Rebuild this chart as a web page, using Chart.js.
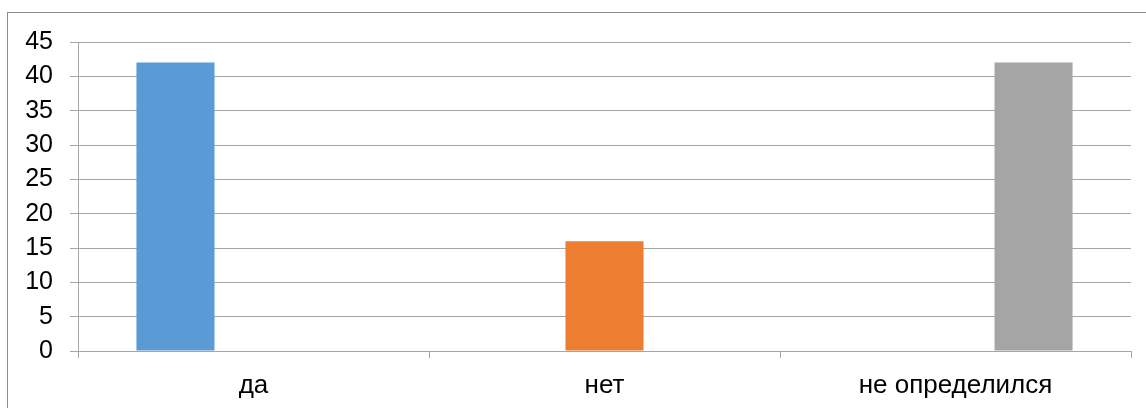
<!DOCTYPE html>
<html>
<head>
<meta charset="utf-8">
<script src="https://cdn.jsdelivr.net/npm/chart.js@4/dist/chart.umd.min.js"></script>
<style>
    html, body { margin: 0; padding: 0; background: #fff; }
    #wrap { position: relative; width: 1146px; height: 408px; }
</style>
</head>
<body>
<div id="wrap"><canvas id="answersChart" width="1146" height="408"></canvas></div>
<script>
    const categories = ['да', 'нет', 'не определился'];
    const seriesNames = ['да', 'нет', 'не определился'];
    const daValues = [42, null, null];
    const netValues = [null, 16, null];
    const undecidedValues = [null, null, 42];
    const colors = ['#5b9bd5', '#ed7d31', '#a5a5a5'];

    const gridColor = '#a6a6a6';
    const family = '"Liberation Sans", Arial, sans-serif';

    // рамка вокруг всей диаграммы, как в Excel
    const frame = {
        id: 'frame',
        beforeDraw(chart) {
            const c = chart.ctx;
            c.save();
            c.strokeStyle = '#8c8c8c';
            c.lineWidth = 1;
            c.strokeRect(7.5, 12.5, 1150, 400);
            c.restore();
        }
    };

    new Chart(document.getElementById('answersChart').getContext('2d'), {
        type: 'bar',
        data: {
            labels: categories,
            datasets: [daValues, netValues, undecidedValues].map((values, i) => ({
                label: seriesNames[i],
                data: values,
                backgroundColor: colors[i],
                borderWidth: 0,
                categoryPercentage: 0.667,
                barPercentage: 1
            }))
        },
        options: {
            responsive: false,
            animation: false,
            layout: { padding: { left: 0, top: 42, right: 15, bottom: 0 } },
            plugins: { legend: { display: false }, tooltip: { enabled: false } },
            scales: {
                y: {
                    min: 0,
                    max: 45,
                    afterFit: s => { s.width = 78; },
                    ticks: { stepSize: 5, color: '#000', font: { family, size: 25 }, padding: 17 },
                    grid: { color: gridColor, tickLength: 8 },
                    border: { color: gridColor }
                },
                x: {
                    afterFit: s => { s.height = 57; },
                    ticks: { color: '#000', font: { family, size: 26 }, padding: 12 },
                    grid: { offset: true, drawOnChartArea: false, color: gridColor, tickLength: 7 },
                    border: { color: gridColor }
                }
            }
        },
        plugins: [frame]
    });
</script>
</body>
</html>
